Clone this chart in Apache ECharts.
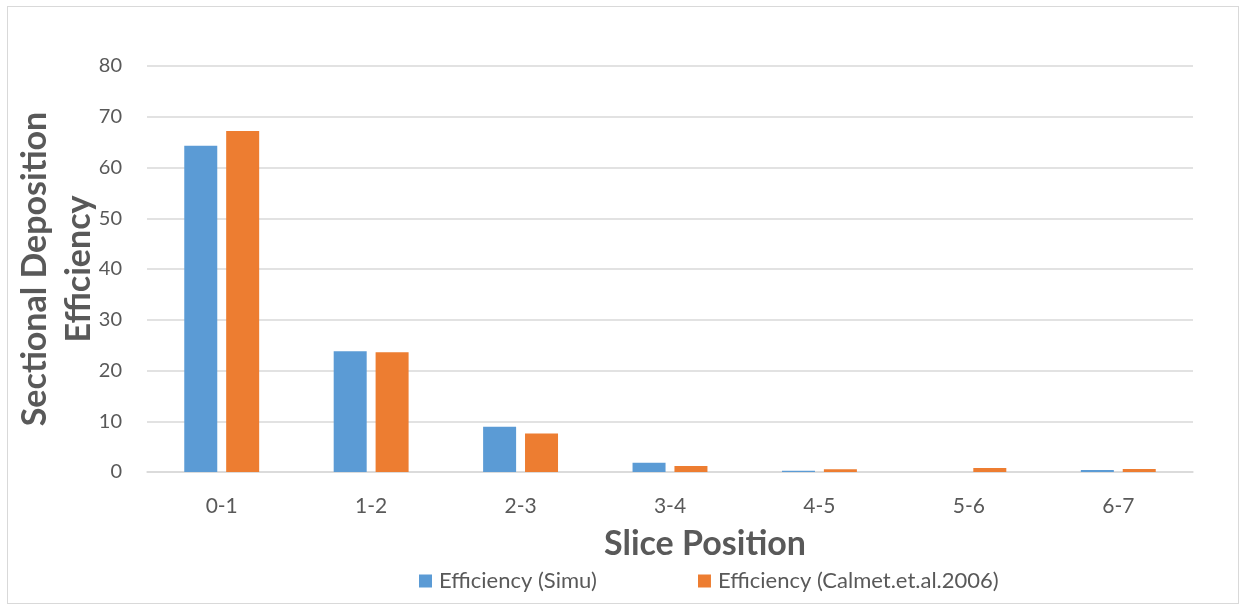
<!DOCTYPE html>
<html>
<head>
<meta charset="utf-8">
<script src="https://cdn.jsdelivr.net/npm/echarts@6/dist/echarts.min.js"></script>
<style>
  html, body { margin: 0; padding: 0; background: #fff; }
  #frame { position: absolute; left: 7px; top: 6px; width: 1232px; height: 598px; border: 1px solid #d9d9d9; box-sizing: border-box; }
  #chart { width: 1244px; height: 612px; }
</style>
</head>
<body>
<div id="frame"></div>
<div id="chart"></div>
<script>
const slices = ['0-1', '1-2', '2-3', '3-4', '4-5', '5-6', '6-7'];
const simu = [64.3, 23.8, 8.9, 1.8, 0.25, 0, 0.4];
const calmet = [67.2, 23.6, 7.6, 1.2, 0.55, 0.8, 0.6];
const yTicks = [0, 10, 20, 30, 40, 50, 60, 70, 80];

const font = 'Lato, "Open Sans", "Liberation Sans", sans-serif';
const grey = '#595959';

const chart = echarts.init(document.getElementById('chart'));
chart.setOption({
  animation: false,
  textStyle: { fontFamily: font },
  grid: { left: 147, right: 51, top: 66, bottom: 140, containLabel: false, outerBoundsMode: 'none' },
  legend: {
    bottom: 15,
    left: 414,
    itemWidth: 13,
    itemHeight: 13,
    itemGap: 101,
    icon: 'rect',
    textStyle: { color: grey, fontSize: 22, fontFamily: font, padding: [0, 0, 0, 2] },
    data: ['Efficiency (Simu)', 'Efficiency (Calmet.et.al.2006)']
  },
  xAxis: {
    type: 'category',
    data: slices,
    name: 'Slice Position',
    nameLocation: 'middle',
    nameGap: 55,
    nameMoveOverlap: false,
    nameTextStyle: { color: grey, fontSize: 34, fontWeight: 'bold', fontFamily: font, padding: [0, 0, 0, 70] },
    axisLine: { lineStyle: { color: '#d9d9d9', width: 1.5 } },
    axisTick: { show: false },
    axisLabel: { color: grey, fontSize: 21, margin: 24 }
  },
  yAxis: {
    type: 'value',
    min: yTicks[0],
    max: yTicks[yTicks.length - 1],
    interval: 10,
    name: 'Sectional Deposition\nEfficiency',
    nameLocation: 'middle',
    nameGap: 46,
    nameMoveOverlap: false,
    nameTextStyle: { color: grey, fontSize: 34, fontWeight: 'bold', fontFamily: font, lineHeight: 44 },
    axisLine: { show: false },
    axisTick: { show: false },
    axisLabel: { color: grey, fontSize: 20, margin: 25 },
    splitLine: { lineStyle: { color: '#d9d9d9', width: 1.5 } }
  },
  series: [
    {
      name: 'Efficiency (Simu)',
      type: 'bar',
      data: simu,
      barWidth: 33,
      barGap: '27%',
      itemStyle: { color: '#5b9bd5' }
    },
    {
      name: 'Efficiency (Calmet.et.al.2006)',
      type: 'bar',
      data: calmet,
      barWidth: 33,
      itemStyle: { color: '#ed7d31' }
    }
  ]
});
</script>
</body>
</html>
